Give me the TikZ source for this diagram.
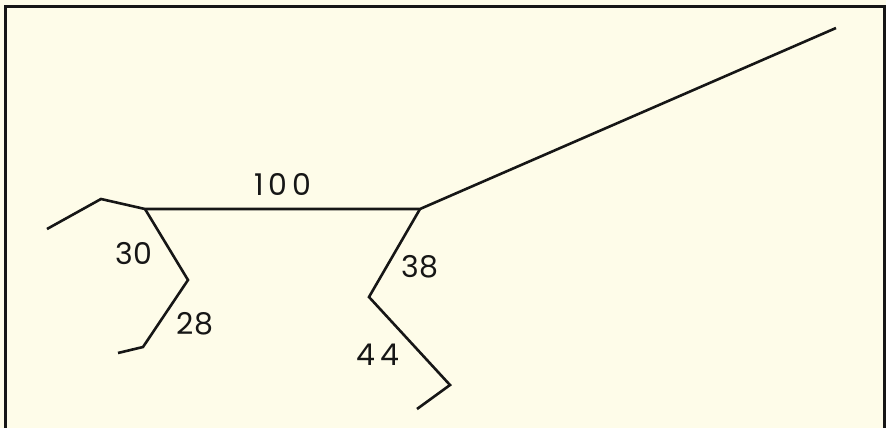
\documentclass[tikz,border=0pt]{standalone}
\usepackage{fontspec}
\setsansfont{Poppins}
\usetikzlibrary{positioning}
\definecolor{paper}{HTML}{FEFCE9}
\definecolor{ink}{HTML}{161616}

\begin{document}
\begin{tikzpicture}[x=1pt, y=-1pt,
  edge/.style={draw=ink, line width=2.6pt, line join=miter},
  frame/.style={draw=ink, line width=3pt},
  len/.style={font=\fontsize{30}{30}\selectfont\sffamily, text=ink, inner sep=0pt},
]
  %% paper and frame
  \fill[paper] (0,0) rectangle (886,428);
  \useasboundingbox (0,0) rectangle (886,428);
  \draw[frame] (5,430) -- (5,7) -- (884,7) -- (884,430);

  %% branch points
  \coordinate (ltip)  at (47,229);
  \coordinate (lknee) at (101,199);
  \coordinate (ljoin) at (145,209);
  \coordinate (rjoin) at (420,209);
  \coordinate (far)   at (836,28);
  \coordinate (lmid)  at (188,280);
  \coordinate (lfoot) at (143,347);
  \coordinate (ltoe)  at (118,353);
  \coordinate (rmid)  at (369,297);
  \coordinate (rfoot) at (450,385);
  \coordinate (rtoe)  at (417,409);

  %% tree
  \draw[edge] (ltip) -- (lknee) -- (ljoin) -- (rjoin) -- (far);
  \draw[edge] (ljoin) -- (lmid) -- (lfoot) -- (ltoe);
  \draw[edge] (rjoin) -- (rmid) -- (rfoot) -- (rtoe);

  %% lengths
  \node[len] (l100) at (283,184) {1\,0\,0};
  \node[len] (l30)  at (134,254) {30};
  \node[len] (l28)  at (195,324) {28};
  \node[len] (l38)  at (420,267) {38};
  \node[len] (l44)  at (378,355) {4\,4};
\end{tikzpicture}
\end{document}
